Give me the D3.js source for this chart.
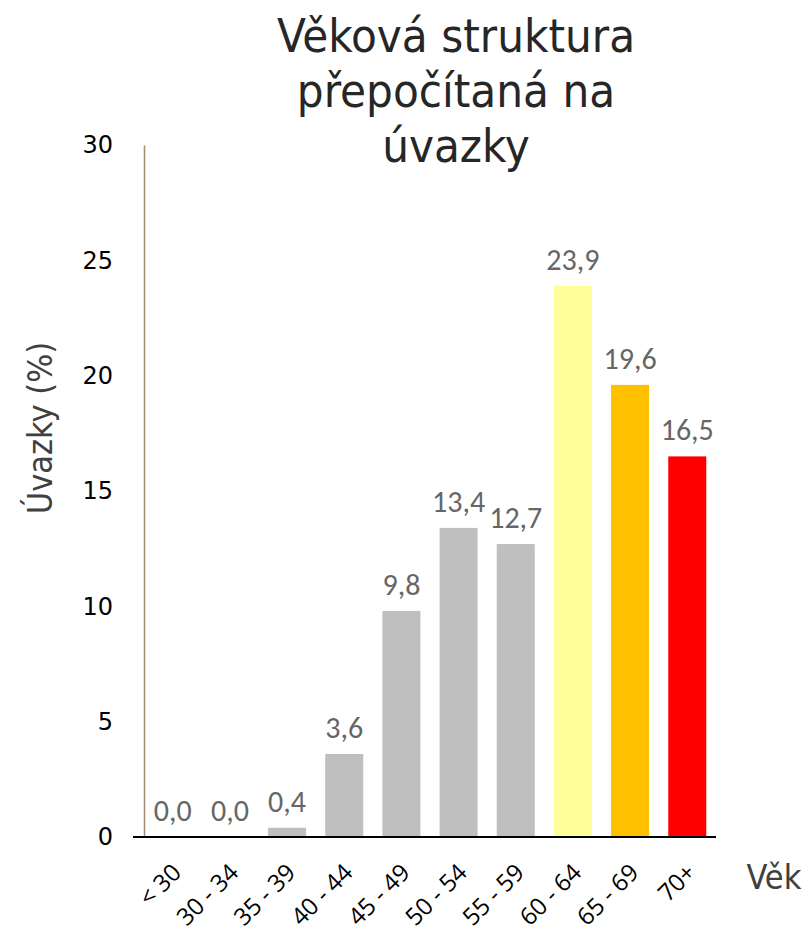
<!DOCTYPE html>
<html>
<head>
<meta charset="utf-8">
<script src="https://cdn.jsdelivr.net/npm/d3@7"></script>
<style>
body{margin:0;background:#fff;}
</style>
</head>
<body>
<div id="graf"></div>
<script>
// data
var kategorie=["< 30","30 - 34","35 - 39","40 - 44","45 - 49","50 - 54","55 - 59","60 - 64","65 - 69","70+"];
var hodnoty=[0.0,0.0,0.4,3.6,9.8,13.4,12.7,23.9,19.6,16.5];
var barvy=["#bfbfbf","#bfbfbf","#bfbfbf","#bfbfbf","#bfbfbf","#bfbfbf","#bfbfbf","#ffff99","#ffc000","#ff0000"];
var yTicks=[0,5,10,15,20,25,30];
var nadpis=["Věková struktura","přepočítaná na","úvazky"];

var W=805,H=940;
var x0=144,x1=716,yTop=145,yBot=837;

var svg=d3.select("#graf").append("svg").attr("width",W).attr("height",H);

var x=d3.scaleBand().domain(kategorie).range([x0,x1]).paddingInner(0.335).paddingOuter(0.17);
var y=d3.scaleLinear().domain([0,30]).range([yBot,yTop]);

//sloupce
svg.append("g").selectAll("rect").data(hodnoty).enter().append("rect")
  .attr("x",function(d,i){return x(kategorie[i]);})
  .attr("y",function(d){return y(d);})
  .attr("width",x.bandwidth())
  .attr("height",function(d){return yBot-y(d);})
  .attr("fill",function(d,i){return barvy[i];});

//popisky hodnot
svg.append("g").selectAll("text").data(hodnoty).enter().append("text")
  .attr("x",function(d,i){return x(kategorie[i])+x.bandwidth()/2;})
  .attr("y",function(d){return y(d)-16;})
  .attr("text-anchor","middle")
  .attr("font-family","Carlito, Lato, sans-serif")
  .attr("font-size",30)
  .attr("fill","#666666")
  .text(function(d){return d.toFixed(1).replace(".",",");});

//osa y
var yAxis=svg.append("g").attr("transform","translate("+x0+",0)")
  .call(d3.axisLeft(y).tickValues(yTicks).tickSize(0).tickPadding(31));
yAxis.select(".domain").attr("stroke","#a68a6d").attr("stroke-width",1.5);
yAxis.selectAll("text").attr("font-family","'DejaVu Sans', Verdana, sans-serif").attr("font-size",24).attr("fill","#000");

//osa x
var xAxis=svg.append("g").attr("transform","translate(0,"+yBot+")")
  .call(d3.axisBottom(x).tickSize(0).tickPadding(0));
xAxis.select(".domain").attr("stroke","#000").attr("stroke-width",2).attr("d","M"+(x0-11)+",0H"+x1);
xAxis.selectAll("text")
  .attr("font-family","'Open Sans', sans-serif").attr("font-size",24).attr("fill","#000")
  .attr("text-anchor","end")
  .attr("dy",0)
  .attr("transform","translate(10,37) rotate(-45)");

//popisek osy y
svg.append("text")
  .attr("transform","translate(52,428) rotate(-90)")
  .attr("text-anchor","middle")
  .attr("font-family","'DejaVu Sans Condensed', sans-serif")
  .attr("font-size",34)
  .attr("fill","#404040")
  .text("Úvazky (%)");

//popisek osy x
svg.append("text")
  .attr("x",774).attr("y",889)
  .attr("text-anchor","middle")
  .attr("font-family","'DejaVu Sans Condensed', sans-serif")
  .attr("font-size",34)
  .attr("fill","#404040")
  .text("Věk");

//nadpis
svg.append("g").selectAll("text").data(nadpis).enter().append("text")
  .attr("x",456)
  .attr("y",function(d,i){return 52+i*55;})
  .attr("text-anchor","middle")
  .attr("font-family","'DejaVu Sans Condensed', sans-serif")
  .attr("font-size",47)
  .attr("fill","#262626")
  .text(function(d){return d;});
</script>
</body>
</html>
